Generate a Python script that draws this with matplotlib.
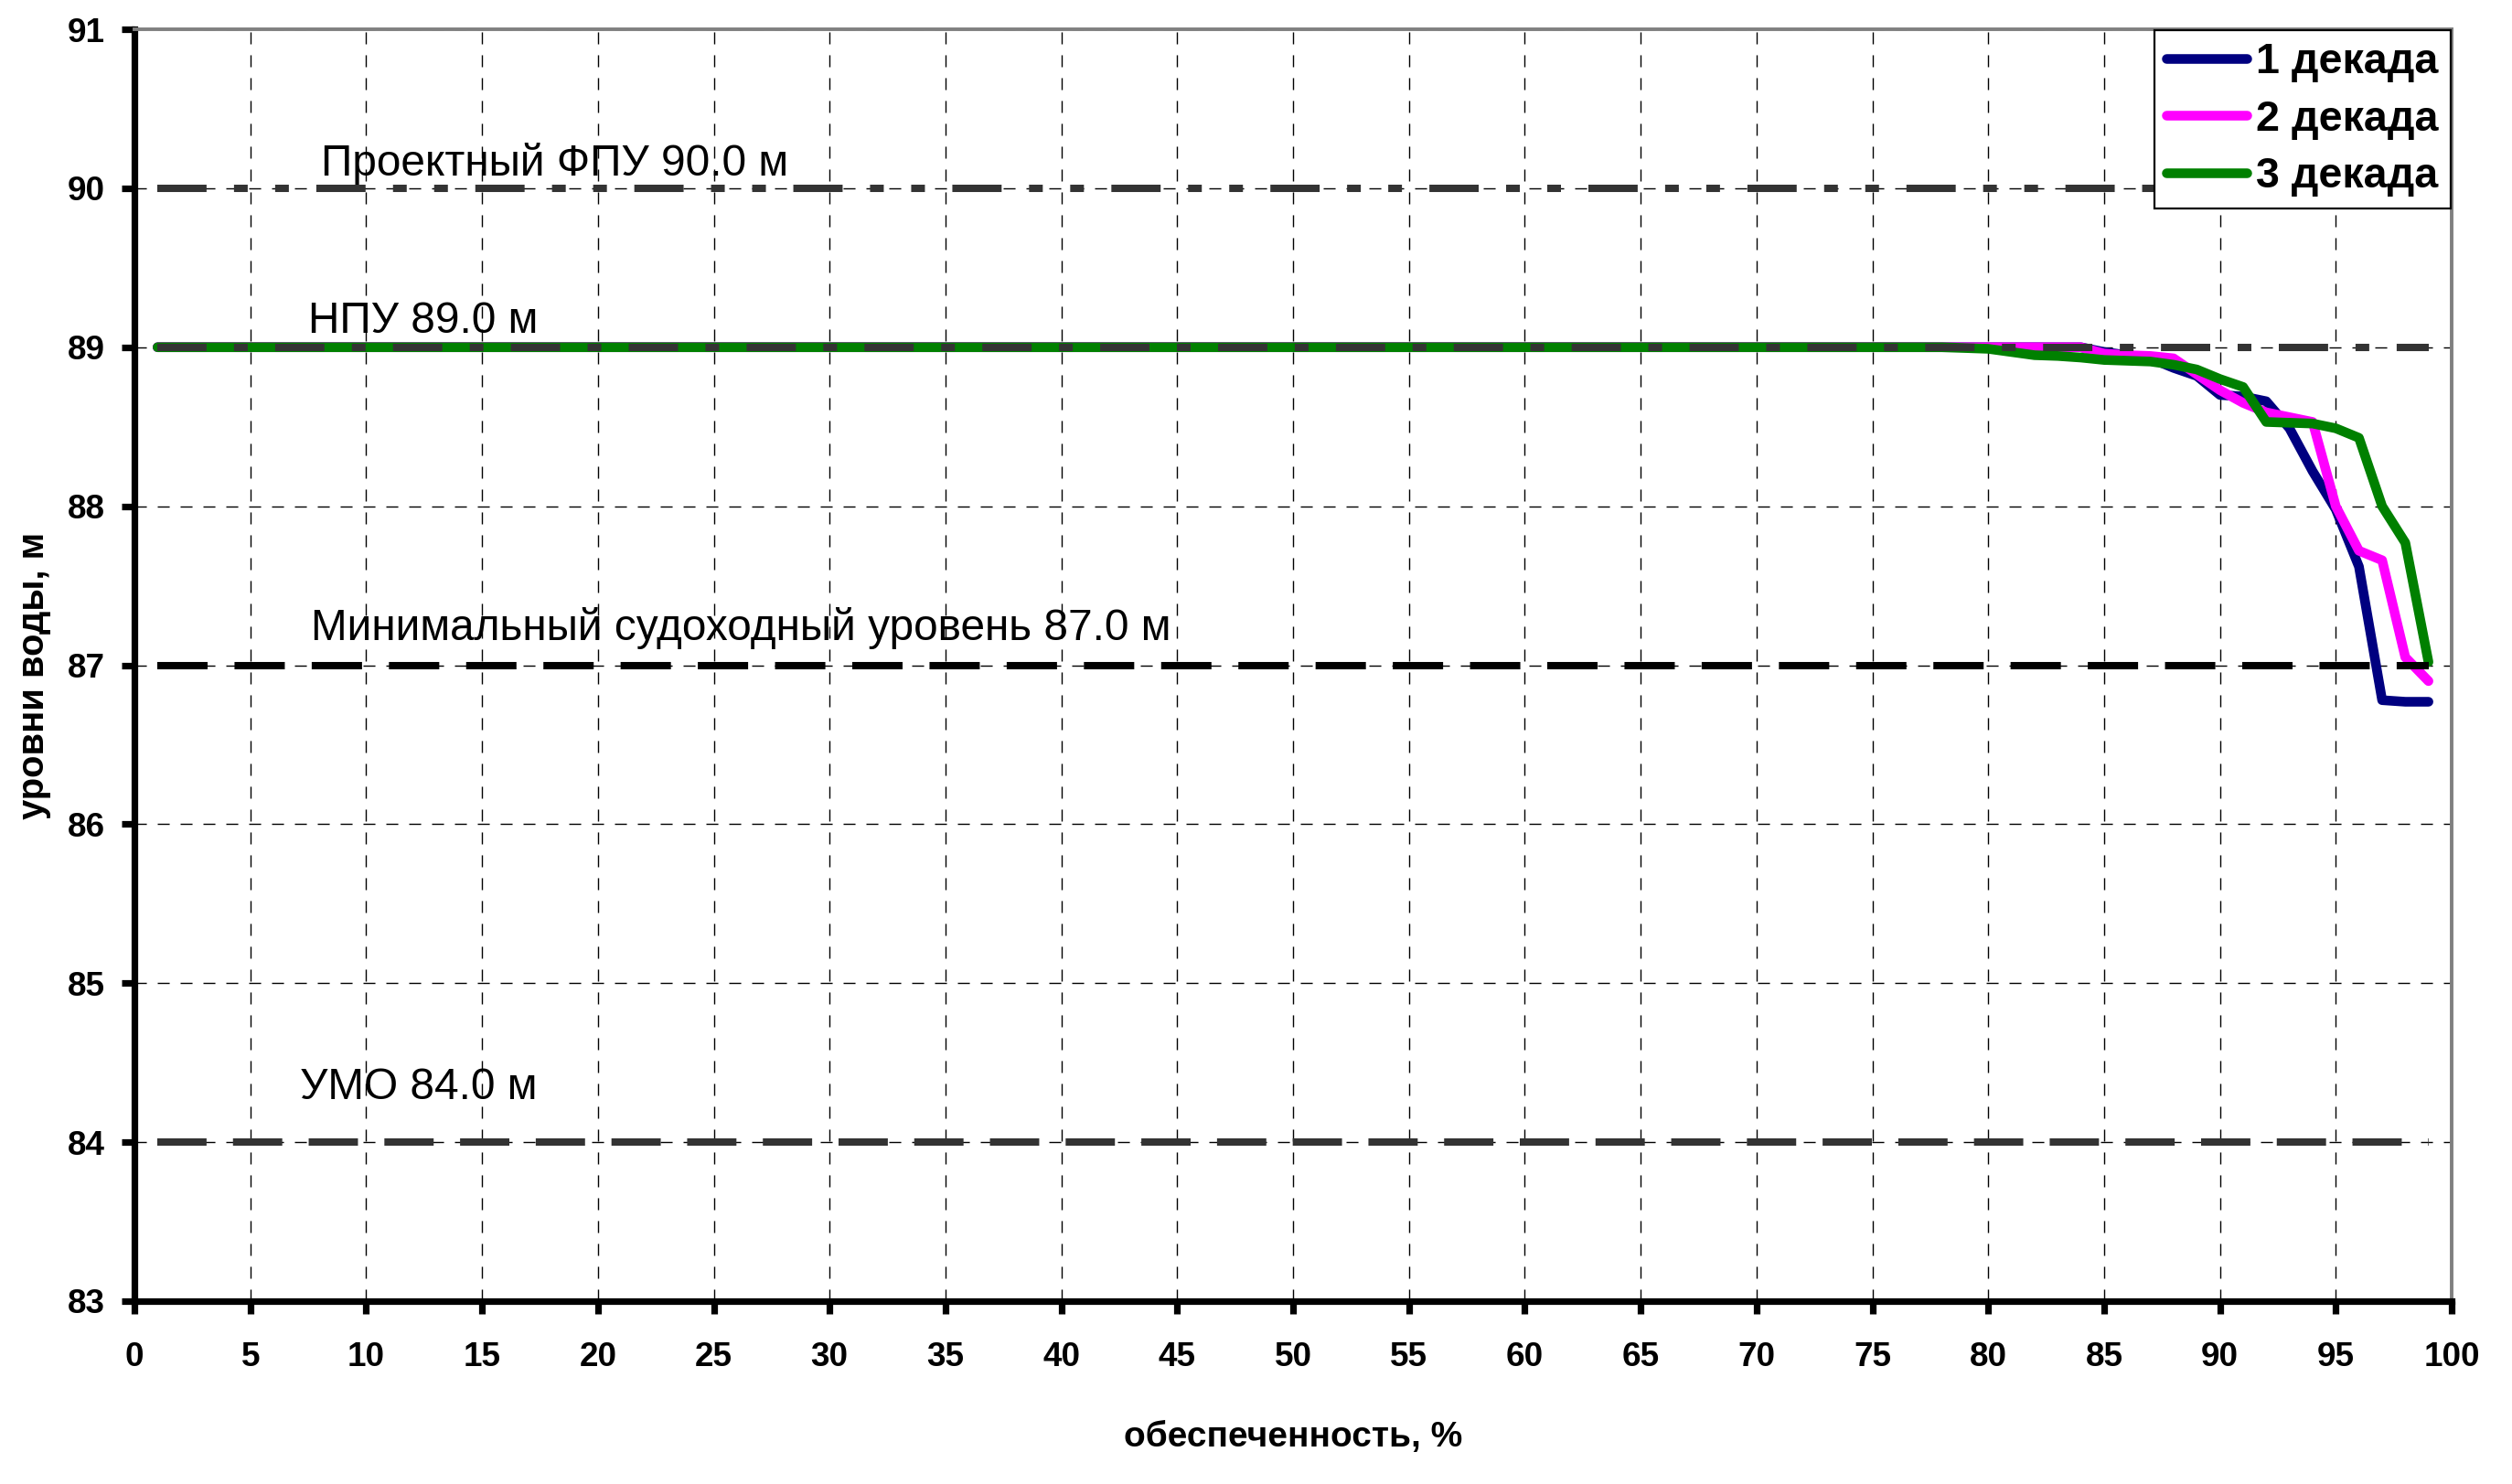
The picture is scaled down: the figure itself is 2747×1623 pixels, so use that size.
import matplotlib
matplotlib.use("Agg")
import matplotlib.pyplot as plt

plt.rcParams['font.family'] = ['Liberation Sans', 'DejaVu Sans']
plt.rcParams['lines.scale_dashes'] = False

# x vertices of the curves (обеспеченность, %)
x = [1, 78, 79, 80, 81, 82, 83, 84, 85, 86, 87, 88, 89, 90, 91, 92, 93, 94, 95, 96, 97, 98, 99]

dec1 = [89.0, 89.0, 89.0, 89.0, 89.0, 89.0, 89.0, 89.0, 88.97, 88.95, 88.93, 88.87, 88.82, 88.70,
        88.69, 88.66, 88.49, 88.22, 87.98, 87.62, 86.78, 86.77, 86.77]
dec2 = [89.0, 89.0, 89.0, 89.0, 89.0, 89.0, 89.0, 89.0, 88.96, 88.95, 88.945, 88.93, 88.83, 88.73,
        88.65, 88.59, 88.56, 88.53, 88.0, 87.72, 87.66, 87.05, 86.9]
dec3 = [89.0, 89.0, 88.995, 88.99, 88.97, 88.95, 88.945, 88.935, 88.92, 88.915, 88.91, 88.89, 88.86, 88.80,
        88.75, 88.53, 88.525, 88.52, 88.49, 88.43, 88.0, 87.77, 87.02]

labels = ["1 декада", "2 декада", "3 декада"]
colors = ["#000080", "#FF00FF", "#008000"]

# reference levels
ref_x = [1, 99]
ref_levels = [90.0, 89.0, 87.0, 84.0]
ref_texts = ["Проектный ФПУ 90.0 м", "НПУ 89.0 м", "Минимальный судоходный уровень 87.0 м", "УМО 84.0 м"]
ref_text_x = [8.05, 7.5, 7.6, 7.15]
ref_text_y = [90.08, 89.09, 87.16, 84.27]

W, H = 2747, 1623
fig = plt.figure(figsize=(W / 200, H / 200), dpi=200)
ax = fig.add_axes([147 / W, 1 - 1423 / H, (2681 - 147) / W, (1423 - 32) / H])

# Draw the series
for ys, lab, c in zip([dec1, dec2, dec3], labels, colors):
    ax.plot(x, ys, color=c, lw=3.8, label=lab, solid_joinstyle='round', solid_capstyle='round', zorder=3)

# Reference lines on top
ref_styles = [
    dict(color="#333333", dashes=[19.4, 10.8, 5.4, 10.8, 5.4, 10.8]),
    dict(color="#333333", dashes=[19.4, 10.8, 5.4, 10.8]),
    dict(color="#000000", dashes=[19.8, 10.6]),
    dict(color="#333333", dashes=[19.4, 10.4]),
]
for lvl, st in zip(ref_levels, ref_styles):
    ax.plot(ref_x, [lvl, lvl], lw=2.9, color=st['color'], dashes=st['dashes'],
            dash_capstyle='butt', zorder=4)

for t, tx, ty in zip(ref_texts, ref_text_x, ref_text_y):
    ax.text(tx, ty, t, fontsize=17.2, va='baseline', ha='left', zorder=5)

ax.set_xlim(0, 100)
ax.set_ylim(83, 91)
ax.set_xticks(range(0, 101, 5))
ax.set_yticks(range(83, 92))

ax.grid(True, color='black', lw=0.5, dashes=(4.7, 4.3))
ax.set_axisbelow(True)

for s in ['top', 'right']:
    ax.spines[s].set_color('#808080')
    ax.spines[s].set_linewidth(1.4)
for s in ['left', 'bottom']:
    ax.spines[s].set_color('black')
    ax.spines[s].set_linewidth(2.6)

ax.tick_params(axis='both', direction='out', length=5, width=2.6, labelsize=13.3)
ax.tick_params(axis='x', pad=11)
ax.tick_params(axis='y', pad=6.5)
for lbl in ax.get_xticklabels() + ax.get_yticklabels():
    lbl.set_fontweight('bold')

ax.set_xlabel("обеспеченность, %", fontsize=14, fontweight='bold', va='baseline')
ax.xaxis.set_label_coords(0.5, (1423 - 1582) / 1391)
ax.set_ylabel("уровни воды, м", fontsize=14.4, fontweight='bold', va='center', ha='center')
ax.yaxis.set_label_coords((37 - 147) / 2534, 0.492)

leg = ax.legend(loc='upper right', bbox_to_anchor=(2680 / W, 1 - 33 / H), bbox_transform=fig.transFigure,
                borderaxespad=0, fancybox=False, edgecolor='black', framealpha=1,
                prop=dict(size=16.8, weight='bold'), handlelength=1.88, handletextpad=0.22,
                borderpad=0.28, labelspacing=0.4)
leg.get_frame().set_linewidth(0.8)
leg.set_zorder(10)
for ln in leg.get_lines():
    ln.set_solid_capstyle('round')

fig.savefig("out.png", dpi=200)
